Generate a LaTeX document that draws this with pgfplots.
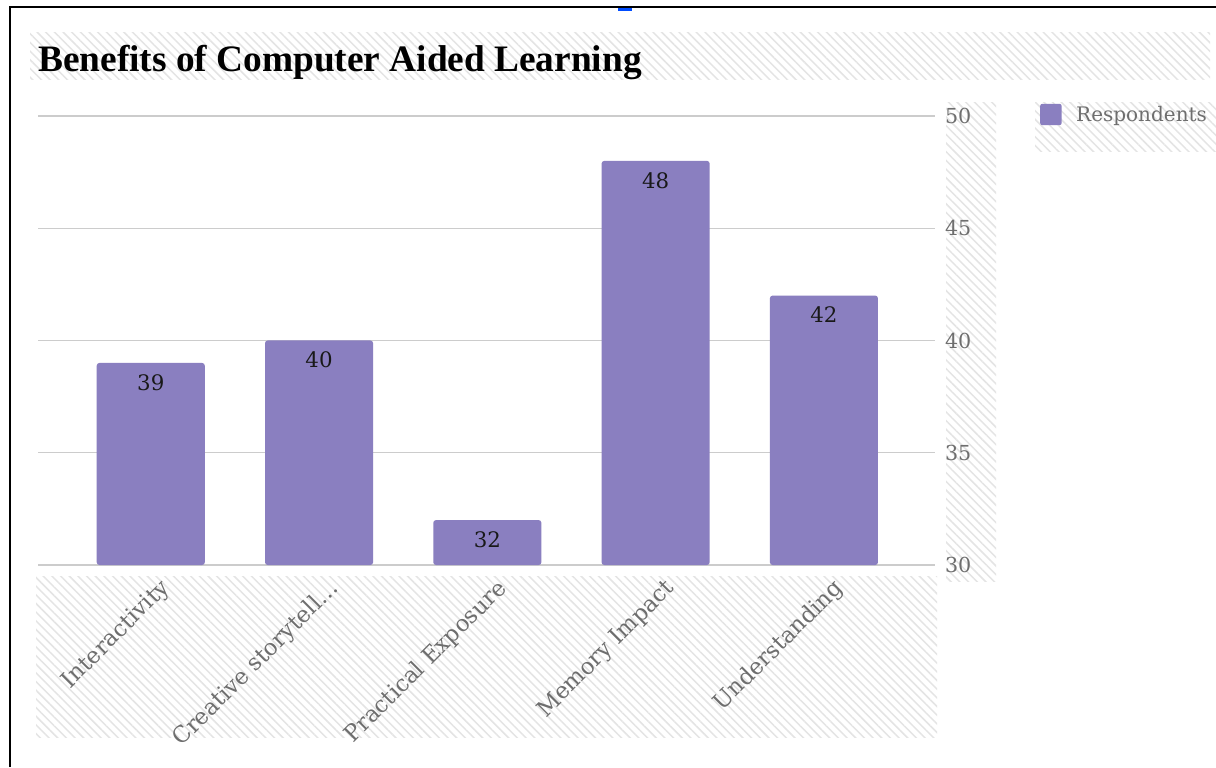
\documentclass[border=0pt]{standalone}
\usepackage{fontspec}
\setmainfont{DejaVu Serif}
\newfontfamily\titlefont{Liberation Serif}
\usepackage{pgfplots}
\pgfplotsset{compat=1.18}
\usetikzlibrary{patterns.meta}
\definecolor{barc}{HTML}{8A7FC0}
\definecolor{labgray}{HTML}{6E6E6E}
\definecolor{gridc}{HTML}{CCCCCC}
\definecolor{hatch}{HTML}{E4E4E4}
\begin{document}
\begin{tikzpicture}
\useasboundingbox (0,0) rectangle (912pt,575.25pt);
\fill[white] (0,0) rectangle (912pt,575.25pt);
\begin{scope}[x=0.75pt,y=-0.75pt,yshift=575.25pt]
\tikzset{hat/.style={pattern={Lines[angle=-45,distance=4.6pt,line width=1.1pt]},pattern color=hatch}}
\fill[hat] (30,33) rectangle (1210,80);
\fill[hat] (946,103) rectangle (996,582);
\fill[hat] (1035,103) rectangle (1216,152);
\fill[hat] (36,577) rectangle (937,737);
\draw[black,line width=1.5pt] (10,767) -- (10,7) -- (1216,7);
\fill[blue!70!cyan] (618,8) rectangle (632,11);
\node[anchor=base west, inner sep=0pt, font=\titlefont\bfseries\fontsize{28}{30}\selectfont] at (38,72) {Benefits of Computer Aided Learning};
\end{scope}
\begin{axis}[
  at={(28.5pt,151.5pt)}, anchor=south west,
  scale only axis, width=672.75pt, height=336.75pt,
  xmin=-0.67, xmax=4.66, ymin=30, ymax=50,
  ytick={30,35,40,45,50},
  xtick={0,1,2,3,4},
  xticklabels={Interactivity, Creative storytell\ldots, Practical Exposure, Memory Impact, Understanding},
  yticklabel pos=right,
  ymajorgrids, major grid style={gridc, line width=0.9pt},
  axis line style={draw=none}, tick style={draw=none},
  ybar, bar width=0.642,
  /pgf/number format/assume math mode=true,
  yticklabel style={font=\fontsize{15.5}{15.5}\selectfont, text=labgray, xshift=4pt},
  xticklabel style={font=\fontsize{17}{17}\selectfont, text=labgray, xshift=6pt, rotate=45, anchor=north east},
  nodes near coords,
  every node near coord/.append style={anchor=north, yshift=-5pt, font=\fontsize{16}{16}\selectfont, text=black!90},
  legend style={at={(1.117,1.029)}, anchor=north west, draw=none, fill=none, inner sep=0pt,
    font=\fontsize{15}{15}\selectfont, text=labgray,
    /tikz/every odd column/.append style={column sep=9pt}},
  legend image code/.code={\fill[barc, rounded corners=1.5pt] (0pt,-8pt) rectangle (16pt,8pt);},
]
\addplot[fill=barc, draw=none, rounded corners=2pt] coordinates {(0,39) (1,40) (2,32) (3,48) (4,42)};
\addlegendentry{Respondents}
\end{axis}
\end{tikzpicture}
\end{document}
